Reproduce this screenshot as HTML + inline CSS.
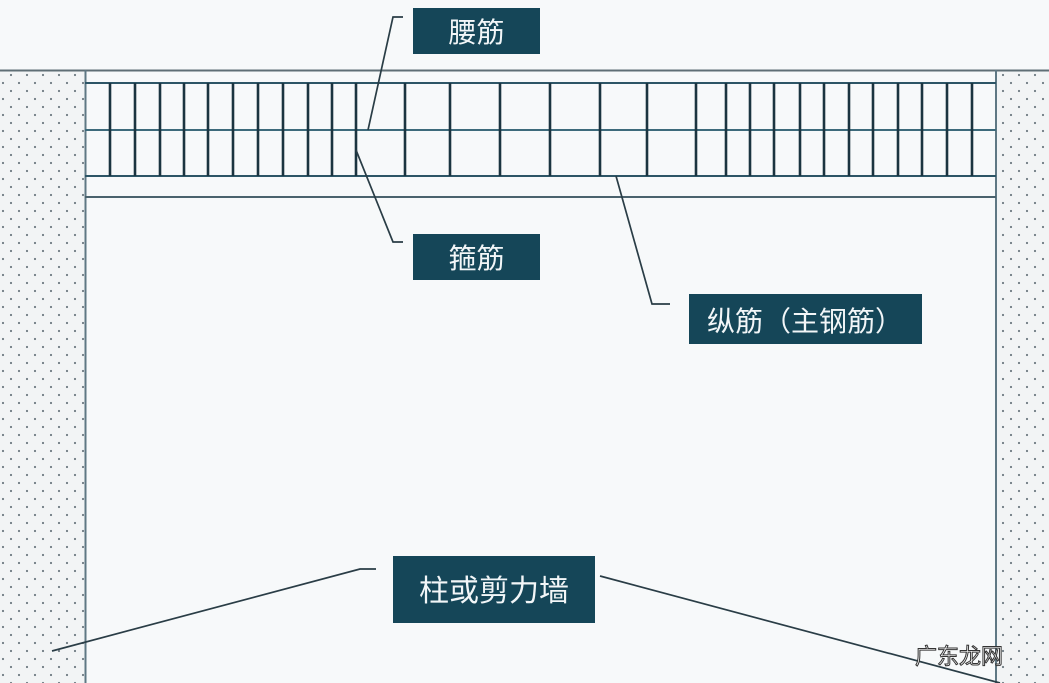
<!DOCTYPE html>
<html><head><meta charset="utf-8"><style>
html,body{margin:0;padding:0;background:#f7f9fa;}
svg{display:block}
text{font-family:"Liberation Sans","Noto Sans CJK SC",sans-serif;fill:#f2f6f8}
</style></head><body>
<svg width="1049" height="683" viewBox="0 0 1049 683" xmlns="http://www.w3.org/2000/svg">
<defs>
<pattern id="dots" width="16" height="16" patternUnits="userSpaceOnUse">
<rect width="16" height="16" fill="#f2f4f5"/>
<circle cx="3" cy="3" r="1.1" fill="#6f7b82"/>
<circle cx="11" cy="11" r="1.1" fill="#6f7b82"/>
</pattern>
</defs>
<rect width="1049" height="683" fill="#f7f9fa"/>
<rect x="0" y="71" width="85" height="612" fill="url(#dots)"/>
<rect x="996" y="71" width="53" height="612" fill="url(#dots)"/>
<line x1="0" y1="70.5" x2="1049" y2="70.5" stroke="#5f6e75" stroke-width="2"/>
<line x1="85.5" y1="70" x2="85.5" y2="683" stroke="#5f7884" stroke-width="2"/>
<line x1="996" y1="70" x2="996" y2="683" stroke="#5f7884" stroke-width="2"/>
<g stroke="#2d5566" stroke-width="2">
<line x1="85" y1="83" x2="996" y2="83"/>
<line x1="85" y1="130" x2="996" y2="130" stroke="#3d6a7b"/>
<line x1="85" y1="176" x2="996" y2="176"/>
<line x1="85" y1="197" x2="996" y2="197" stroke="#4a626d"/>
</g>
<g stroke="#1b3440" stroke-width="2.6">
<line x1="110" y1="83" x2="110" y2="176"/><line x1="135" y1="83" x2="135" y2="176"/>
<line x1="160" y1="83" x2="160" y2="176"/><line x1="184" y1="83" x2="184" y2="176"/>
<line x1="208" y1="83" x2="208" y2="176"/><line x1="233" y1="83" x2="233" y2="176"/>
<line x1="258" y1="83" x2="258" y2="176"/><line x1="283" y1="83" x2="283" y2="176"/>
<line x1="308" y1="83" x2="308" y2="176"/><line x1="332" y1="83" x2="332" y2="176"/>
<line x1="356" y1="83" x2="356" y2="176"/><line x1="405" y1="83" x2="405" y2="176"/>
<line x1="450" y1="83" x2="450" y2="176"/><line x1="500" y1="83" x2="500" y2="176"/>
<line x1="550" y1="83" x2="550" y2="176"/><line x1="600" y1="83" x2="600" y2="176"/>
<line x1="647" y1="83" x2="647" y2="176"/><line x1="696" y1="83" x2="696" y2="176"/>
<line x1="726" y1="83" x2="726" y2="176"/><line x1="750" y1="83" x2="750" y2="176"/>
<line x1="774" y1="83" x2="774" y2="176"/><line x1="800" y1="83" x2="800" y2="176"/>
<line x1="824" y1="83" x2="824" y2="176"/><line x1="849" y1="83" x2="849" y2="176"/>
<line x1="873" y1="83" x2="873" y2="176"/><line x1="898" y1="83" x2="898" y2="176"/>
<line x1="922" y1="83" x2="922" y2="176"/><line x1="947" y1="83" x2="947" y2="176"/>
<line x1="972" y1="83" x2="972" y2="176"/>
</g>
<g stroke="#2a3d46" stroke-width="1.7" fill="none">
<polyline points="403,17 393,17 368,130"/>
<polyline points="356,150 393,242 403,242"/>
<polyline points="616,176 652,304 670,304"/>
<polyline points="52,651 360,569 376,569"/>
<line x1="600" y1="576" x2="1000" y2="683"/>
</g>
<rect x="413" y="8" width="127" height="46" fill="#154658"/>
<text x="476.5" y="42" font-size="28" text-anchor="middle">腰筋</text>
<rect x="413" y="234" width="127" height="46" fill="#154658"/>
<text x="476.5" y="268" font-size="28" text-anchor="middle">箍筋</text>
<rect x="689" y="294" width="233" height="50" fill="#154658"/>
<text x="805" y="331" font-size="28" text-anchor="middle">纵筋（主钢筋）</text>
<rect x="393" y="556" width="202" height="67" fill="#154658"/>
<text x="494" y="601" font-size="30" text-anchor="middle">柱或剪力墙</text>
<text x="915" y="664" font-size="22" style="fill:#ffffff;stroke:#333;stroke-width:1">广东龙网</text>
</svg>
</body></html>
